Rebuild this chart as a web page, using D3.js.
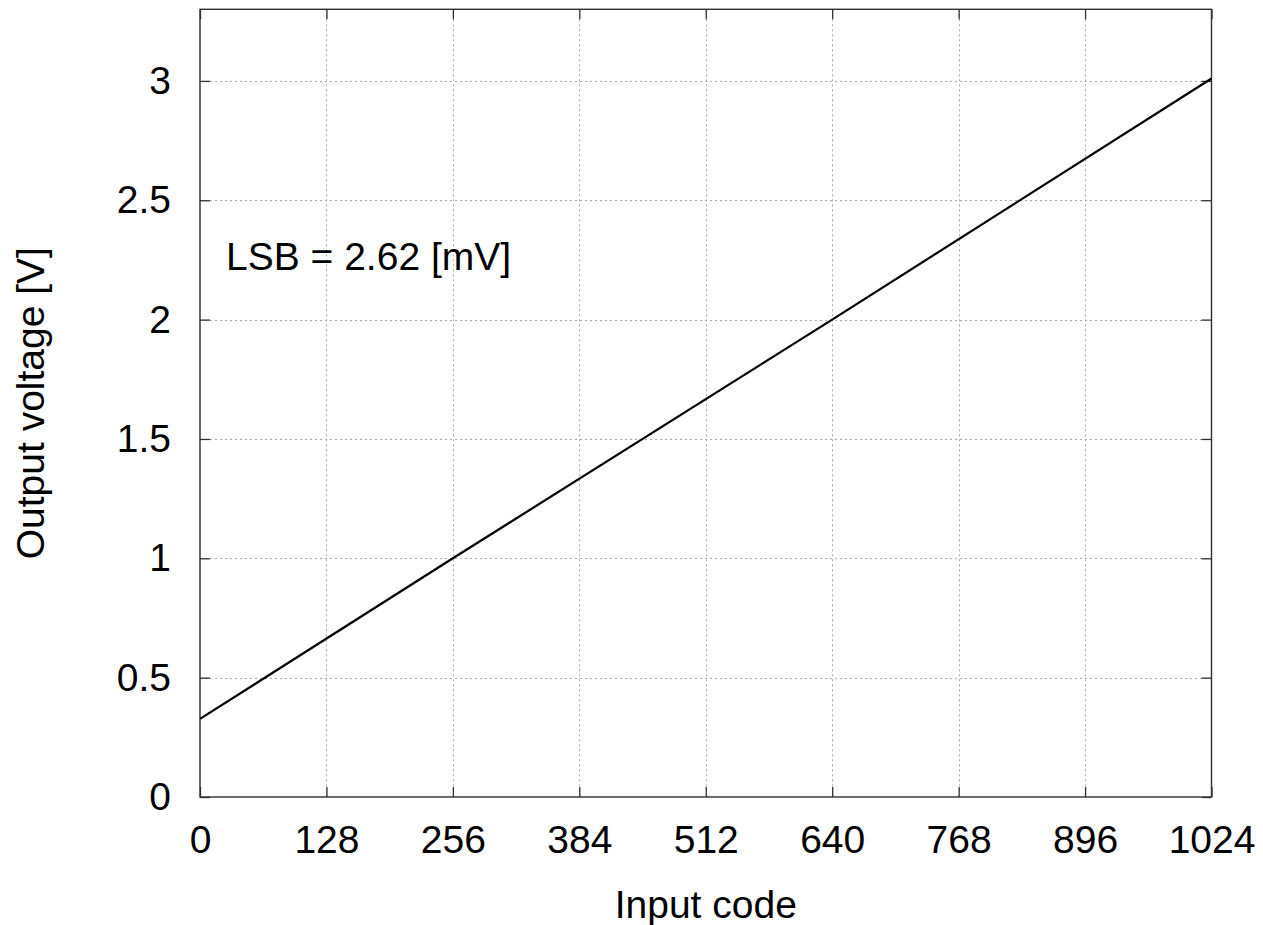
<!DOCTYPE html>
<html>
<head>
<meta charset="utf-8">
<script src="https://cdn.jsdelivr.net/npm/d3@7"></script>
<style>
  html, body { margin: 0; padding: 0; background: #fff; }
  svg { display: block; font-family: "Liberation Sans", Arial, sans-serif; }
</style>
</head>
<body>
<svg id="chart" width="1263" height="925"></svg>
<script>
// DAC transfer characteristic: input code vs output voltage
const codes = [0, 256, 640, 1024];
const volts = [0.327, 1.0, 2.0, 3.01];
const xTicks = [0, 128, 256, 384, 512, 640, 768, 896, 1024];
const yTicks = [0, 0.5, 1, 1.5, 2, 2.5, 3];
const yTickLabels = ["0", "0.5", "1", "1.5", "2", "2.5", "3"];
const xTitle = "Input code";
const yTitle = "Output voltage [V]";
const note = "LSB = 2.62 [mV]";

(function () {
  const W = 1263, H = 925;
  const plotL = 200, plotR = 1211.5, plotT = 9.3, plotB = 797;
  const fontSize = 39;

  const svg = d3.select("#chart");
  svg.append("rect").attr("width", W).attr("height", H).attr("fill", "#fff");

  const x = d3.scaleLinear().domain([0, 1024]).range([plotL, plotR]);
  const y = d3.scaleLinear().domain([0, 3.3]).range([plotB, plotT]);

  // dotted grid
  const grid = svg.append("g")
    .attr("stroke", "#a8a8a8")
    .attr("stroke-width", 1)
    .attr("stroke-dasharray", "2,3");
  grid.selectAll("line.v").data(xTicks.filter(d => d > 0 && d < 1024)).join("line")
    .attr("class", "v")
    .attr("x1", d => Math.round(x(d)) + 0.5).attr("x2", d => Math.round(x(d)) + 0.5)
    .attr("y1", plotT).attr("y2", plotB);
  grid.selectAll("line.h").data(yTicks.filter(d => d > 0)).join("line")
    .attr("class", "h")
    .attr("y1", d => Math.round(y(d)) + 0.5).attr("y2", d => Math.round(y(d)) + 0.5)
    .attr("x1", plotL).attr("x2", plotR);

  // axes with inward ticks on every side
  const tickLen = 10;
  const axisBottom = d3.axisBottom(x).tickValues(xTicks).tickSizeInner(-tickLen).tickSizeOuter(0).tickFormat(d3.format("d"));
  const axisTop = d3.axisTop(x).tickValues(xTicks).tickSizeInner(-tickLen).tickSizeOuter(0).tickFormat("");
  const axisLeft = d3.axisLeft(y).tickValues(yTicks).tickSizeInner(-tickLen).tickSizeOuter(0)
    .tickFormat((d, i) => yTickLabels[i]);
  const axisRight = d3.axisRight(y).tickValues(yTicks).tickSizeInner(-tickLen).tickSizeOuter(0).tickFormat("");

  function style(g) {
    g.select(".domain").remove();
    g.selectAll(".tick line").attr("stroke", "#303030").attr("stroke-width", 1.3);
    g.selectAll(".tick text").attr("fill", "#000").attr("font-size", fontSize)
      .attr("font-family", "Liberation Sans, Arial, sans-serif");
  }

  const gb = svg.append("g").attr("transform", `translate(0,${plotB})`).call(axisBottom).call(style);
  gb.selectAll(".tick text").attr("y", 55.7).attr("dy", 0);

  svg.append("g").attr("transform", `translate(0,${plotT})`).call(axisTop).call(style);

  const gl = svg.append("g").attr("transform", `translate(${plotL},0)`).call(axisLeft).call(style);
  gl.selectAll(".tick text").attr("x", -29).attr("dy", "0.32em");

  svg.append("g").attr("transform", `translate(${plotR},0)`).call(axisRight).call(style);

  // plot frame
  svg.append("rect")
    .attr("x", plotL).attr("y", plotT)
    .attr("width", plotR - plotL).attr("height", plotB - plotT)
    .attr("fill", "none").attr("stroke", "#303030").attr("stroke-width", 1.4);

  // transfer line
  const line = d3.line().x(d => x(d[0])).y(d => y(d[1]));
  svg.append("path")
    .datum(codes.map((c, i) => [c, volts[i]]))
    .attr("d", line)
    .attr("fill", "none")
    .attr("stroke", "#000")
    .attr("stroke-width", 2.2);

  // annotation
  svg.append("text")
    .attr("x", 226).attr("y", 270)
    .attr("font-size", fontSize).attr("fill", "#000")
    .text(note);

  // axis titles
  svg.append("text")
    .attr("x", (plotL + plotR) / 2).attr("y", 918)
    .attr("text-anchor", "middle")
    .attr("font-size", fontSize).attr("fill", "#000")
    .text(xTitle);

  svg.append("text")
    .attr("transform", `translate(44,${(plotT + plotB) / 2}) rotate(-90)`)
    .attr("text-anchor", "middle")
    .attr("font-size", fontSize).attr("fill", "#000")
    .text(yTitle);
})();
</script>
</body>
</html>
